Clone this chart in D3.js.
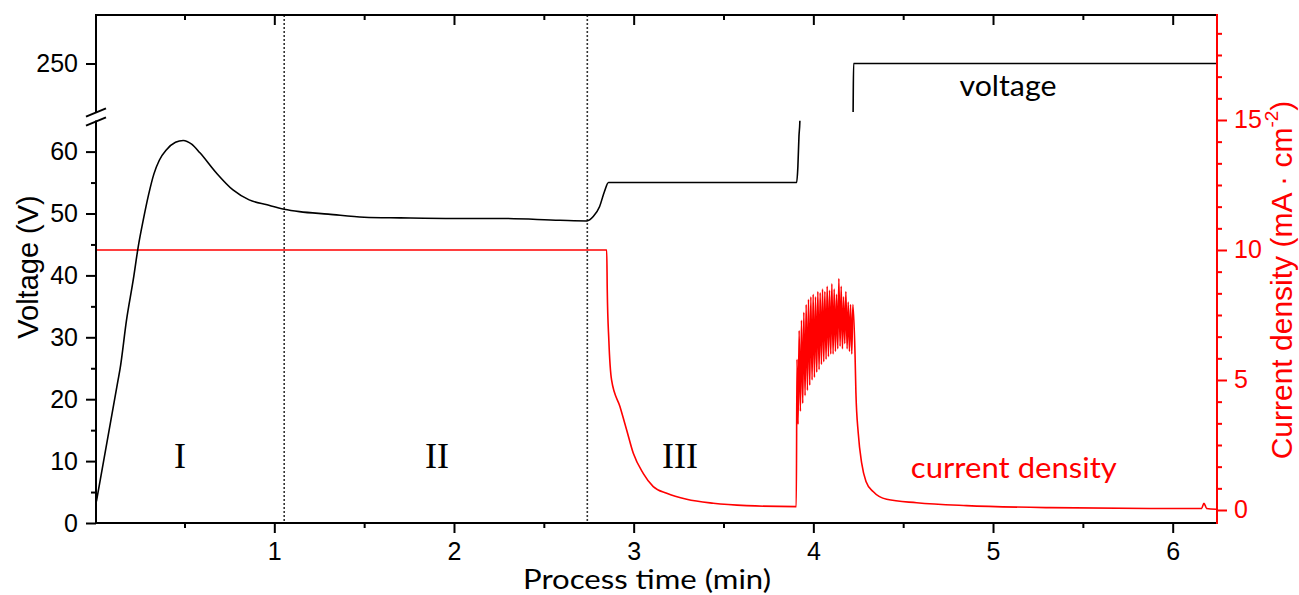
<!DOCTYPE html>
<html>
<head>
<meta charset="utf-8">
<script src="https://cdn.jsdelivr.net/npm/d3@7"></script>
<style>
body { margin: 0; background: #fff; }
text { font-family: "Liberation Sans", Arial, sans-serif; }
</style>
</head>
<body>
<div id="chart"></div>
<script>
// voltage (V) against process time (min)
var voltT = [0.01, 0.131, 0.141, 0.178, 0.215, 0.243, 0.271, 0.30, 0.33, 0.36, 0.40, 0.45, 0.493, 0.54, 0.586, 0.679, 0.77, 0.86, 0.96, 1.055, 1.14, 1.3, 1.5, 1.7, 2.0, 2.26, 2.59, 2.74, 2.775, 2.81, 2.838, 2.86, 3.907, 3.914, 3.92, 3.925, 3.93, 4.2, 4.22, 4.224, 6.241];
var voltV = [3.5, 23.2, 24.8, 32.9, 39.3, 44.7, 49.0, 53.0, 56.4, 58.6, 60.3, 61.5, 61.8, 61.2, 59.8, 56.5, 53.8, 52.2, 51.4, 50.7, 50.3, 49.9, 49.4, 49.3, 49.2, 49.2, 48.9, 48.8, 49.5, 51.1, 53.6, 55.0, 55.0, 57.6, 62.5, 64.9, 80, 225, 232, 250, 250];

// current density (mA/cm2)
var curT = [0.0, 2.850, 2.853, 2.862, 2.877, 2.924, 2.961, 2.998, 3.053, 3.109, 3.184, 3.295, 3.443, 3.629, 3.905, 3.909,
  3.915, 3.921, 3.928, 3.934, 3.941, 3.947, 3.954, 3.960, 3.967, 3.973, 3.980, 3.986, 3.993, 3.999, 4.006, 4.012,
  4.019, 4.025, 4.032, 4.038, 4.045, 4.051, 4.058, 4.064, 4.071, 4.077, 4.084, 4.090, 4.097, 4.103, 4.110, 4.116,
  4.123, 4.129, 4.136, 4.142, 4.149, 4.155, 4.162, 4.168, 4.175, 4.181, 4.188, 4.194, 4.201, 4.207, 4.214, 4.220,
  4.232, 4.237, 4.250, 4.269, 4.293, 4.334, 4.408, 4.575, 4.853, 5.317, 5.874, 6.161, 6.174, 6.189, 6.241];
var curJ = [10, 10, 8.46, 6.5, 5.0, 3.97, 3.08, 2.18, 1.41, 0.9, 0.64, 0.41, 0.26, 0.17, 0.13, 5.8,
  3.3, 6.9, 3.8, 7.3, 4.1, 7.6, 4.4, 7.9, 4.6, 8.1, 4.8, 8.2, 5.0, 8.3, 5.1, 8.2,
  5.3, 8.4, 5.4, 8.35, 5.6, 8.5, 5.7, 8.4, 5.8, 8.6, 5.9, 8.45, 6.0, 8.7, 6.0, 8.5,
  6.1, 8.3, 6.2, 8.9, 6.3, 8.6, 6.2, 8.2, 6.4, 8.4, 6.2, 8.0, 6.1, 7.9, 6.0, 7.9,
  6.0, 4.5, 2.95, 1.8, 1.1, 0.70, 0.41, 0.28, 0.17, 0.09, 0.06, 0.06, 0.26, 0.06, 0.03];

var xTicks = [1, 2, 3, 4, 5, 6];
var xMinor = [0.5, 1.5, 2.5, 3.5, 4.5, 5.5];
var voltTicks = [0, 10, 20, 30, 40, 50, 60];
var voltMinor = [5, 15, 25, 35, 45, 55];
var voltTicksHigh = [250];
var curTicks = [0, 5, 10, 15];
var curMinor = [0.833, 1.667, 2.5, 3.333, 4.167, 5.833, 6.667, 7.5, 8.333, 9.167, 10.833, 11.667, 12.5, 13.333, 14.167, 15.833, 16.667, 17.5, 18.333];

var phaseBounds = [1.055, 2.742];
var phaseNames = ["I", "II", "III"];
var phaseAt = [0.475, 1.906, 3.258];

var width = 1299, height = 595;
var red = "#ff0000";

var svg = d3.select("#chart").append("svg")
  .attr("width", width)
  .attr("height", height);

var x = d3.scaleLinear().domain([0.0076, 6.241]).range([96, 1216]);
var yLow = d3.scaleLinear().domain([0, 65]).range([523, 120.65]);
var yHigh = d3.scaleLinear().domain([237.5, 262.5]).range([112, 15]);
var yCur = d3.scaleLinear().domain([-0.5, 19.038]).range([523, 15]);

var defs = svg.append("defs");
defs.append("clipPath").attr("id", "clipLow").append("rect")
  .attr("x", 96).attr("y", yLow(65)).attr("width", 1120).attr("height", 523 - yLow(65));
defs.append("clipPath").attr("id", "clipHigh").append("rect")
  .attr("x", 96).attr("y", 15).attr("width", 1120).attr("height", 112 - 15);
defs.append("clipPath").attr("id", "clipAll").append("rect")
  .attr("x", 96).attr("y", 15).attr("width", 1120).attr("height", 508);

var volt = voltT.map(function(t, i) { return [t, voltV[i]]; });
var cur = curT.map(function(t, i) { return [t, curJ[i]]; });

// phase borders
svg.selectAll(".phase-line")
  .data(phaseBounds)
  .enter().append("line")
  .attr("class", "phase-line")
  .attr("x1", x).attr("x2", x)
  .attr("y1", 15).attr("y2", 523)
  .attr("stroke", "#333")
  .attr("stroke-width", 1.6)
  .attr("stroke-dasharray", "2,2");

// current density
svg.append("path")
  .datum(cur)
  .attr("clip-path", "url(#clipAll)")
  .attr("fill", "none")
  .attr("stroke", red)
  .attr("stroke-width", 1.6)
  .attr("d", d3.line().x(function(d) { return x(d[0]); }).y(function(d) { return yCur(d[1]); }).curve(d3.curveMonotoneX));

// voltage, drawn once per segment of the broken axis
svg.append("path")
  .datum(volt)
  .attr("clip-path", "url(#clipLow)")
  .attr("fill", "none")
  .attr("stroke", "#000")
  .attr("stroke-width", 1.6)
  .attr("d", d3.line().x(function(d) { return x(d[0]); }).y(function(d) { return yLow(d[1]); }).curve(d3.curveMonotoneX));

svg.append("path")
  .datum(volt)
  .attr("clip-path", "url(#clipHigh)")
  .attr("fill", "none")
  .attr("stroke", "#000")
  .attr("stroke-width", 1.6)
  .attr("d", d3.line().x(function(d) { return x(d[0]); }).y(function(d) { return yHigh(d[1]); }).curve(d3.curveMonotoneX));

function style(g, color, size) {
  g.select(".domain").remove();
  g.selectAll("line").attr("stroke", color).attr("stroke-width", 2);
  g.selectAll("text").attr("fill", color).style("font-size", size + "px")
    .style("font-family", '"Liberation Sans", Arial, sans-serif');
}

// bottom axis
svg.append("g").attr("transform", "translate(0,523)")
  .call(d3.axisBottom(x).tickValues(xTicks).tickSize(10).tickPadding(9).tickFormat(d3.format("d")))
  .call(style, "#000", 25);
svg.append("g").attr("transform", "translate(0,523)")
  .call(d3.axisBottom(x).tickValues(xMinor).tickSize(5).tickFormat(""))
  .call(style, "#000", 25);

// top axis, ticks inward
svg.append("g").attr("transform", "translate(0,15)")
  .call(d3.axisTop(x).tickValues(xTicks).tickSize(-10).tickFormat(""))
  .call(style, "#000", 25);
svg.append("g").attr("transform", "translate(0,15)")
  .call(d3.axisTop(x).tickValues(xMinor).tickSize(-5).tickFormat(""))
  .call(style, "#000", 25);

// left axis, lower part
svg.append("g").attr("transform", "translate(96,0)")
  .call(d3.axisLeft(yLow).tickValues(voltTicks).tickSize(10).tickPadding(8))
  .call(style, "#000", 25);
svg.append("g").attr("transform", "translate(96,0)")
  .call(d3.axisLeft(yLow).tickValues(voltMinor).tickSize(5).tickFormat(""))
  .call(style, "#000", 25);
// left axis, upper part
svg.append("g").attr("transform", "translate(96,0)")
  .call(d3.axisLeft(yHigh).tickValues(voltTicksHigh).tickSize(10).tickPadding(8))
  .call(style, "#000", 25);

// right axis
svg.append("g").attr("transform", "translate(1217,0)")
  .call(d3.axisRight(yCur).tickValues(curTicks).tickSize(10).tickPadding(7))
  .call(style, red, 25);
svg.append("g").attr("transform", "translate(1217,0)")
  .call(d3.axisRight(yCur).tickValues(curMinor).tickSize(5).tickFormat(""))
  .call(style, red, 25);

// frame lines
svg.append("line").attr("x1", 96).attr("x2", 1216).attr("y1", 523).attr("y2", 523)
  .attr("stroke", "#000").attr("stroke-width", 2);
svg.append("line").attr("x1", 96).attr("x2", 1216).attr("y1", 15).attr("y2", 15)
  .attr("stroke", "#000").attr("stroke-width", 2);
svg.append("line").attr("x1", 96).attr("x2", 96).attr("y1", 14).attr("y2", 112.5)
  .attr("stroke", "#000").attr("stroke-width", 2);
svg.append("line").attr("x1", 96).attr("x2", 96).attr("y1", 120.5).attr("y2", 524)
  .attr("stroke", "#000").attr("stroke-width", 2);
svg.append("line").attr("x1", 1217).attr("x2", 1217).attr("y1", 14).attr("y2", 524)
  .attr("stroke", red).attr("stroke-width", 2);

// break marks
[112.5, 121.5].forEach(function(yb) {
  svg.append("line")
    .attr("x1", 86).attr("y1", yb + 4.2).attr("x2", 106).attr("y2", yb - 4.2)
    .attr("stroke", "#000").attr("stroke-width", 2);
});

// phase names
svg.selectAll(".phase-name")
  .data(phaseNames)
  .enter().append("text")
  .attr("class", "phase-name")
  .attr("x", function(d, i) { return x(phaseAt[i]); })
  .attr("y", yLow(8.9))
  .attr("text-anchor", "middle")
  .style("font-family", '"Liberation Serif", "Times New Roman", serif')
  .style("font-size", "36px")
  .text(function(d) { return d; });

// series labels
svg.append("text")
  .attr("x", x(5.083)).attr("y", yHigh(241.6))
  .attr("text-anchor", "middle")
  .style("font-family", "Lato, sans-serif").style("font-size", "29px")
  .attr("textLength", 97).attr("lengthAdjust", "spacingAndGlyphs")
  .text("voltage");

svg.append("text")
  .attr("x", x(5.116)).attr("y", yCur(1.22))
  .attr("text-anchor", "middle")
  .attr("fill", red)
  .style("font-family", "Lato, sans-serif").style("font-size", "29px")
  .attr("textLength", 206).attr("lengthAdjust", "spacingAndGlyphs")
  .text("current density");

// axis titles
svg.append("text")
  .attr("x", 647).attr("y", 589)
  .attr("text-anchor", "middle")
  .style("font-family", "Lato, sans-serif").style("font-size", "27px")
  .attr("textLength", 248).attr("lengthAdjust", "spacingAndGlyphs")
  .text("Process time (min)");

svg.append("text")
  .attr("transform", "translate(28,267) rotate(-90)")
  .attr("text-anchor", "middle")
  .attr("dominant-baseline", "central")
  .style("font-size", "29px")
  .text("Voltage (V)");

var rt = svg.append("text")
  .attr("transform", "translate(1281,280) rotate(-90)")
  .attr("text-anchor", "middle")
  .attr("dominant-baseline", "central")
  .attr("fill", red)
  .style("font-size", "30px");
rt.append("tspan").text("Current density (mA \u00b7 cm");
rt.append("tspan").attr("dy", -10).style("font-size", "19px").text("-2");
rt.append("tspan").attr("dy", 10).text(")");
</script>
</body>
</html>
